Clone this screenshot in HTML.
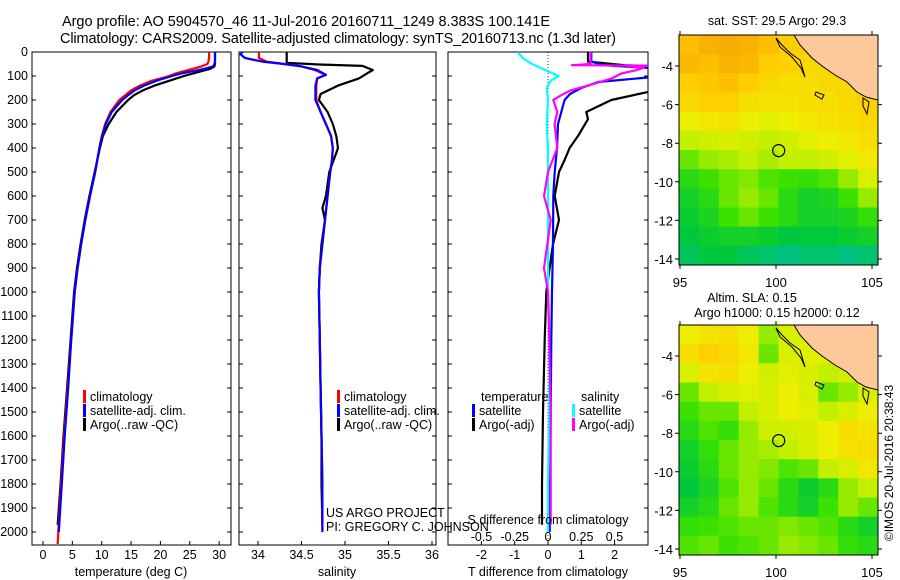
<!DOCTYPE html>
<html><head><meta charset="utf-8"><style>
html,body{margin:0;padding:0;background:#fff;}
svg{display:block;font-family:"Liberation Sans",sans-serif;}
text{fill:#000;}
</style></head><body>
<svg id="fig" width="900" height="580" viewBox="0 0 900 580">
<defs>
<clipPath id="c1"><rect x="32" y="52" width="199" height="493"/></clipPath>
<clipPath id="c2"><rect x="239" y="52" width="197" height="493"/></clipPath>
<clipPath id="c3"><rect x="448" y="52" width="200" height="493"/></clipPath>
<clipPath id="m1"><rect x="679" y="35" width="199" height="230"/></clipPath>
<clipPath id="m2"><rect x="679" y="325" width="199" height="230"/></clipPath>
</defs>
<text x="62" y="26" font-size="14.5" textLength="488">Argo profile: AO 5904570_46 11-Jul-2016 20160711_1249 8.383S 100.141E</text>
<text x="60" y="43" font-size="14.5" textLength="556">Climatology: CARS2009. Satellite-adjusted climatology: synTS_20160713.nc (1.3d later)</text>
<g id="layer"></g>
<text x="131" y="576" font-size="12.5" text-anchor="middle">temperature (deg C)</text>
<text x="337" y="576" font-size="12.5" text-anchor="middle">salinity</text>
<text x="548" y="576" font-size="12.5" text-anchor="middle">T difference from climatology</text>
<text x="548" y="524" font-size="12.5" text-anchor="middle">S difference from climatology</text>
<text x="326" y="517" font-size="12.5">US ARGO PROJECT</text>
<text x="326" y="531" font-size="12.5">PI: GREGORY C. JOHNSON</text>
<text x="777" y="25" font-size="12.5" text-anchor="middle">sat. SST: 29.5 Argo: 29.3</text>
<text x="752" y="302" font-size="12.5" text-anchor="middle">Altim. SLA: 0.15</text>
<text x="777" y="317" font-size="12.5" text-anchor="middle">Argo h1000: 0.15 h2000: 0.12</text>
<text transform="translate(893,463) rotate(-90)" font-size="12" text-anchor="middle">©IMOS 20-Jul-2016 20:38:43</text>
</svg>
<script>
// ---------- data ----------
const tempClimDepth=[0,20,40,50,60,70,80,90,100,120,140,160,180,200,250,300,350,400,500,600,700,800,900,1000,1200,1400,1600,1800,2000,2050];
const tempClim=[28.3,28.3,28.2,28.0,27.0,25.5,24,22.5,21.5,18.5,16.5,15,14,13,11.5,10.6,10,9.6,8.9,8.0,7.2,6.5,5.9,5.4,4.8,4.2,3.6,3.1,2.6,2.5];
const tempSatDepth=[0,20,40,50,60,70,80,90,100,120,140,160,180,200,250,300,350,400,500,600,700,800,900,1000,1200,1400,1600,1800,2000];
const tempSat=[29.3,29.3,29.3,29.2,29.0,27.5,25.5,23.5,22,19.3,17.2,15.6,14.5,13.5,11.7,10.7,10.1,9.6,8.9,8.0,7.2,6.5,5.9,5.4,4.8,4.3,3.7,3.2,2.7];
const tempArgoDepth=[0,20,40,50,60,70,80,90,100,120,140,160,180,200,250,300,350,400,500,600,700,800,900,1000,1200,1400,1600,1800,1970];
const tempArgo=[29.3,29.3,29.3,29.3,29.2,28.5,27,25.5,24,21.5,19,17,15.5,14.5,12.5,11.2,10.2,9.7,8.8,7.9,7.1,6.4,5.8,5.3,4.7,4.1,3.5,3.0,2.5];
const salDepth=[0,10,25,40,50,60,75,95,110,140,175,200,250,300,350,400,450,500,600,700,800,900,1000,1200,1400,1600,1800,2000];
const salClim=[34.01,34.01,34.01,34.1,34.3,34.5,34.65,34.78,34.68,34.67,34.67,34.67,34.72,34.78,34.84,34.86,34.85,34.83,34.80,34.77,34.74,34.71,34.70,34.71,34.72,34.73,34.74,34.74];
const salSat=[33.82,33.8,33.85,34.05,34.3,34.5,34.68,34.78,34.68,34.66,34.66,34.66,34.72,34.78,34.84,34.86,34.85,34.83,34.80,34.77,34.74,34.71,34.70,34.71,34.72,34.73,34.74,34.74];
const salArgoDepth=[0,45,52,58,75,90,110,140,175,200,250,300,350,400,450,500,600,650,700,800,900,1000,1200,1400,1600,1800,1970];
const salArgo=[34.33,34.33,34.7,35.2,35.32,35.25,35.16,34.92,34.72,34.7,34.8,34.86,34.9,34.92,34.87,34.82,34.78,34.74,34.77,34.73,34.71,34.70,34.71,34.72,34.73,34.73,34.74];
const dTSatDepth=[0,40,55,62,70,100,125,150,175,200,250,300,400,500,600,800,1000,1200,1500,1800,2000];
const dTSat=[1.3,1.3,1.65,2.5,3.5,3.5,1.5,1.0,0.66,0.5,0.4,0.3,0.27,0.2,0.16,0.15,0.12,0.1,0.08,0.06,0.05];
const dTArgoDepth=[0,40,55,60,70,150,165,200,250,280,350,400,450,500,600,700,800,1000,1200,1500,1800,1970];
const dTArgo=[1.2,1.2,2.3,3.5,3.5,3.5,3.05,1.9,1.15,1.2,0.9,0.65,0.5,0.33,0.2,0.33,0.15,-0.05,-0.1,-0.15,-0.18,-0.18];
const dSSatDepth=[0,25,50,80,100,120,150,200,300,400,500,600,800,1000,1200,1500,1800,2000];
const dSSat=[-0.23,-0.19,-0.12,0.0,0.08,0.02,-0.01,0.0,-0.01,0.0,0.0,0.0,0.0,0.0,0.01,0.01,0.0,0.0];
const dSArgoDepth=[0,50,55,57,60,65,75,90,110,140,160,180,200,250,300,400,500,600,700,900,1000,1200,1500,1800,1970];
const dSArgo=[0.32,0.32,0.18,0.77,0.6,0.72,0.67,0.55,0.48,0.3,0.17,0.1,0.04,0.07,0.05,0.07,0.0,-0.03,0.02,-0.03,0.0,0.01,0.02,0.02,0.02];
const depthTicks=[0,100,200,300,400,500,600,700,800,900,1000,1100,1200,1300,1400,1500,1600,1700,1800,1900,2000];
const tempTicks=[0,5,10,15,20,25,30];
const salTicks=[34,34.5,35,35.5,36];
const salTickLabels=["34","34.5","35","35.5","36"];
const dTTicks=[-2,-1,0,1,2];
const dSTicks=[-0.5,-0.25,0,0.25,0.5];
const latTicks=[-4,-6,-8,-10,-12,-14];
const lonTicks=[95,100,105];
// map grids: rows from north (-2.4) to south (-14.3), cols 95..105 (1 deg)
const sstGrid=[
[.85,.9,.92,.9,.85,.8,.8,.8,.8,.8],
[.88,.85,.9,.88,.8,.78,.75,.75,.78,.8],
[.8,.82,.85,.8,.75,.72,.72,.75,.75,.78],
[.75,.78,.78,.72,.7,.7,.72,.72,.75,.78],
[.65,.68,.7,.65,.62,.65,.68,.7,.72,.75],
[.55,.58,.6,.58,.55,.58,.62,.65,.68,.72],
[.45,.5,.52,.55,.52,.55,.55,.58,.62,.68],
[.35,.4,.45,.48,.42,.4,.38,.42,.5,.6],
[.3,.35,.45,.5,.45,.35,.3,.32,.4,.5],
[.28,.32,.4,.45,.4,.35,.3,.3,.32,.38],
[.25,.28,.3,.3,.28,.25,.25,.25,.28,.3],
[.22,.25,.25,.22,.2,.18,.2,.2,.18,.2]];
const slaGrid=[
[.65,.7,.72,.65,.5,.6,.6,.6,.6,.6],
[.72,.78,.75,.68,.45,.6,.62,.62,.6,.6],
[.6,.7,.72,.65,.58,.62,.6,.55,.58,.6],
[.45,.55,.6,.62,.6,.65,.6,.45,.5,.6],
[.4,.45,.45,.55,.6,.65,.62,.55,.6,.65],
[.35,.42,.38,.5,.58,.58,.6,.65,.72,.7],
[.3,.38,.45,.5,.52,.55,.6,.65,.7,.72],
[.28,.35,.45,.5,.48,.42,.45,.55,.6,.68],
[.25,.32,.42,.5,.45,.35,.28,.35,.5,.55],
[.3,.35,.45,.5,.42,.35,.3,.4,.5,.45],
[.38,.4,.42,.45,.45,.48,.45,.42,.35,.3],
[.42,.45,.4,.42,.45,.5,.48,.45,.38,.35]];
const argoLon=100.141, argoLat=-8.383;

// ---------- scales ----------
const NS='http://www.w3.org/2000/svg';
const layer=document.getElementById('layer');
const yD=d=>52+d*0.24;
const xT=v=>43+v*5.87;
const xS=v=>258+(v-34)*87;
const xDT=v=>548+v*33.3;
const xDS=v=>548+v*133;
const mX=lon=>680+(lon-95)*19.2;
const mY=(lat,top)=>top+31+(-4-lat)*19.3;
function el(tag,attrs,parent){const e=document.createElementNS(NS,tag);for(const k in attrs)e.setAttribute(k,attrs[k]);(parent||layer).appendChild(e);return e;}
function txt(x,y,s,anchor,size){const t=el('text',{x:x,y:y,'font-size':size||12.5,'text-anchor':anchor||'start'});t.textContent=s;return t;}
function line(depths,vals,xf,color,clip,name){
  const d=depths.map((dp,i)=>(i?'L':'M')+xf(vals[i]).toFixed(1)+','+yD(dp).toFixed(1)).join('');
  const p=el('path',{d:d,fill:'none',stroke:color,'stroke-width':2.2,'clip-path':'url(#'+clip+')','stroke-linejoin':'round'});
  
  
  return p;
}

// ---------- profile panels ----------
const panels=[{x:32,w:199,name:'temperature-panel'},{x:239,w:197,name:'salinity-panel'},{x:448,w:200,name:'difference-panel'}];
panels.forEach(pn=>{
  const r=el('rect',{x:pn.x,y:52,width:pn.w,height:493,fill:'#fff',stroke:'#000','stroke-width':1});
  
  
  depthTicks.forEach(d=>{
    const tk=el('path',{d:`M${pn.x},${yD(d)}h4M${pn.x+pn.w},${yD(d)}h-4`,stroke:'#000'});
    
    
  });
});
depthTicks.forEach(d=>{
  const t=txt(28,yD(d)+4,String(d),'end',12.5);
  
  
});
function xticks(ticks,labels,xf,y,top){
  ticks.forEach((v,i)=>{
    const tk=el('path',{d:`M${xf(v)},545v-4`,stroke:'#000'});
    
    
    const t=txt(xf(v),y,labels[i],'middle',12.5);
    
    
  });
}
xticks(tempTicks,tempTicks.map(String),xT,559);
xticks(salTicks,salTickLabels,xS,559);
xticks(dTTicks,dTTicks.map(String),xDT,559);
dSTicks.forEach(v=>{
  const t=txt(xDS(v),541,String(v).replace('-','\u2212').replace('\u22120.','\u22120.'),'middle',12.5);
  t.textContent=String(v);
  
  
});
const zl=el('path',{d:'M548,52V545',stroke:'#000','stroke-width':0.8,'stroke-dasharray':'1,2'});



line(tempArgoDepth,tempArgo,xT,'#000','c1','temp-argo-line');
line(tempClimDepth,tempClim,xT,'#f00','c1','temp-climatology-line');
line(tempSatDepth,tempSat,xT,'#00f','c1','temp-satellite-line');
line(salArgoDepth,salArgo,xS,'#000','c2','sal-argo-line');
line(salDepth,salClim,xS,'#f00','c2','sal-climatology-line');
line(salDepth,salSat,xS,'#00f','c2','sal-satellite-line');
line(dTArgoDepth,dTArgo,xDT,'#000','c3','dt-argo-line');
line(dTSatDepth,dTSat,xDT,'#00f','c3','dt-satellite-line');
line(dSSatDepth,dSSat,xDS,'#0ff','c3','ds-satellite-line');
line(dSArgoDepth,dSArgo,xDS,'#f0f','c3','ds-argo-line');

// legends
function legEntry(x,y,color,label,name){
  const b=el('rect',{x:x,y:y-11,width:3,height:13,fill:color});
  
  
  const t=txt(x+7,y,label,'start',12.5);
  
  
}
[[83,'#f00','climatology'],[83,'#00f','satellite-adj. clim.'],[83,'#000','Argo(..raw -QC)']].forEach((e,i)=>legEntry(e[0],401+i*14,e[1],e[2],'temp-legend-entry'));
[[337,'#f00','climatology'],[337,'#00f','satellite-adj. clim.'],[337,'#000','Argo(..raw -QC)']].forEach((e,i)=>legEntry(e[0],401+i*14,e[1],e[2],'sal-legend-entry'));
let lh=txt(481,401,'temperature','start',12.5);


lh=txt(581,401,'salinity','start',12.5);


legEntry(472,415,'#00f','satellite','diff-legend-entry');
legEntry(472,429,'#000','Argo(-adj)','diff-legend-entry');
legEntry(572,415,'#0ff','satellite','diff-legend-entry');
legEntry(572,429,'#f0f','Argo(-adj)','diff-legend-entry');

// ---------- maps ----------
const stops=[[0.15,[0,190,160]],[0.25,[0,200,60]],[0.4,[60,225,0]],[0.55,[195,240,0]],[0.65,[238,238,0]],[0.8,[255,205,0]],[0.95,[245,165,0]]];
function cmap(v){
  if(v<=stops[0][0])return `rgb(${stops[0][1]})`;
  for(let i=1;i<stops.length;i++){if(v<=stops[i][0]){const a=stops[i-1],b=stops[i],f=(v-a[0])/(b[0]-a[0]);return 'rgb('+a[1].map((c,k)=>Math.round(c+(b[1][k]-c)*f)).join(',')+')';}}
  return `rgb(${stops[stops.length-1][1]})`;
}
function drawMap(grid,top,clip,name){
  const g=el('g',{'clip-path':'url(#'+clip+')'});
  
  
  const ch=230/grid.length;
  grid.forEach((row,r)=>row.forEach((v,c)=>{
    const cell=el('rect',{x:(679+c*19.9).toFixed(1),y:(top+r*ch).toFixed(1),width:20.4,height:ch+0.5,fill:cmap(v)},g);
    
    
  }));
  const land=el('path',{d:`M794,${top}L800,${top+10}L812,${top+23}L822,${top+31}L835,${top+40}L847,${top+47}L857,${top+57}L866,${top+62}L878,${top+65}V${top}Z`,fill:'#fdc99a',stroke:'#000','stroke-width':1},g);
  
  
  const isl=el('path',{d:`M776,${top+3}L782,${top+10}L790,${top+18}L800,${top+25}L805,${top+42}L801,${top+33}L792,${top+22}L780,${top+12}Z M816,${top+57}l8,3l-2,4l-7,-4Z M863,${top+63}l6,4l-2,12l-4,-8Z`,fill:'none',stroke:'#000','stroke-width':1},g);
  
  
  const fr=el('rect',{x:679,y:top,width:199,height:230,fill:'none',stroke:'#000'});
  
  
  const mk=el('circle',{cx:mX(argoLon),cy:mY(argoLat,top),r:6,fill:'none',stroke:'#000','stroke-width':1.2});
  
  
  latTicks.forEach(l=>{
    const tk=el('path',{d:`M679,${mY(l,top)}h-4M878,${mY(l,top)}h4`,stroke:'#000'});
    
    
    const t=txt(673,mY(l,top)+5,String(l),'end',13);
    
    
  });
  lonTicks.forEach(l=>{
    const tk=el('path',{d:`M${mX(l)},${top+230}v4M${mX(l)},${top}v-4`,stroke:'#000'});
    
    
    const t=txt(mX(l),top+252,String(l),'middle',13);
    
    
  });
}
drawMap(sstGrid,35,'m1','sst-map');
drawMap(slaGrid,325,'m2','sla-map');
</script>
</body></html>
